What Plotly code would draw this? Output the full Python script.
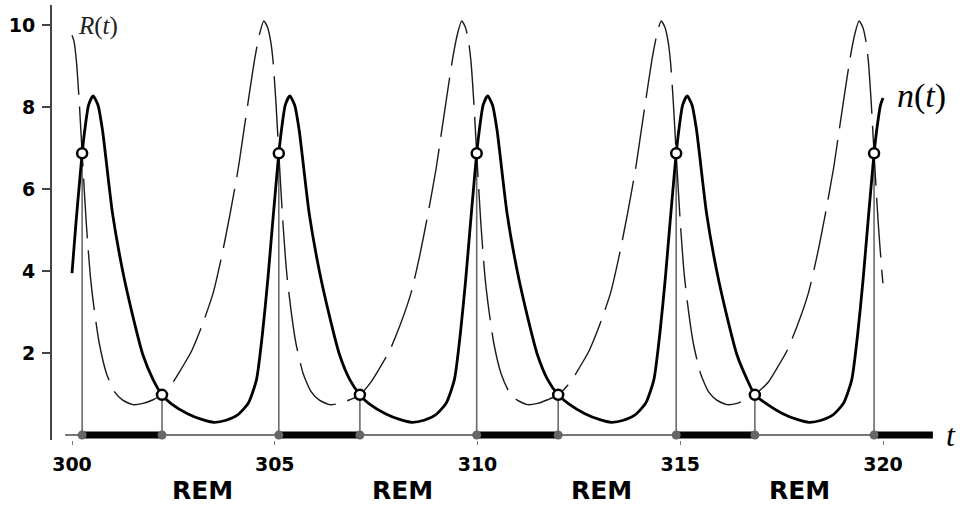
import plotly.graph_objects as go

# ---- data ----
n_t = [300.00, 300.10, 300.18, 300.25, 300.33, 300.41, 300.52, 300.64, 300.75, 301.00, 301.25, 301.50, 301.75, 302.00, 302.22,
       302.45, 302.85, 303.20, 303.50, 303.80, 304.10, 304.35, 304.55, 304.70, 304.83, 304.95, 305.03, 305.10,
       305.18, 305.26, 305.37, 305.49, 305.60, 305.85, 306.10, 306.35, 306.60, 306.85, 307.10,
       307.33, 307.73, 308.08, 308.38, 308.68, 308.98, 309.23, 309.43, 309.58, 309.71, 309.83, 309.91, 309.98,
       310.06, 310.14, 310.25, 310.37, 310.48, 310.73, 310.98, 311.23, 311.48, 311.73, 311.99,
       312.25, 312.65, 313.00, 313.30, 313.60, 313.90, 314.15, 314.35, 314.50, 314.63, 314.75, 314.83, 314.90,
       314.98, 315.06, 315.17, 315.29, 315.40, 315.65, 315.90, 316.15, 316.40, 316.65, 316.84,
       317.13, 317.53, 317.88, 318.18, 318.48, 318.78, 319.03, 319.23, 319.38, 319.51, 319.63, 319.71, 319.78,
       319.86, 319.94, 320.00]
n_vals = [3.95, 5.2, 6.1, 6.87, 7.55, 8.05, 8.27, 8.05, 7.45, 5.4, 4.0, 2.9, 1.95, 1.35, 0.98,
          0.76, 0.52, 0.38, 0.31, 0.36, 0.50, 0.78, 1.35, 2.5, 3.8, 5.2, 6.1, 6.87,
          7.55, 8.05, 8.27, 8.05, 7.45, 5.4, 4.0, 2.9, 1.95, 1.35, 0.98,
          0.76, 0.52, 0.38, 0.31, 0.36, 0.50, 0.78, 1.35, 2.5, 3.8, 5.2, 6.1, 6.87,
          7.55, 8.05, 8.27, 8.05, 7.45, 5.4, 4.0, 2.9, 1.95, 1.35, 0.98,
          0.76, 0.52, 0.38, 0.31, 0.36, 0.50, 0.78, 1.35, 2.5, 3.8, 5.2, 6.1, 6.87,
          7.55, 8.05, 8.27, 8.05, 7.45, 5.4, 4.0, 2.9, 1.95, 1.35, 0.98,
          0.76, 0.52, 0.38, 0.31, 0.36, 0.50, 0.78, 1.35, 2.5, 3.8, 5.2, 6.1, 6.87,
          7.55, 8.05, 8.22]

R_t = [300.00, 300.05, 300.11, 300.18, 300.25, 300.35, 300.45, 300.55, 300.67, 300.85, 301.05, 301.25, 301.50, 301.75, 302.00, 302.22,
       302.50, 302.70, 302.95, 303.20, 303.48, 303.70, 303.90, 304.10, 304.22, 304.37, 304.51, 304.63, 304.73, 304.82, 304.90, 304.96, 305.03, 305.10,
       305.20, 305.30, 305.40, 305.52, 305.70, 305.90, 306.10, 306.35, 306.60, 306.85, 307.10,
       307.38, 307.58, 307.83, 308.08, 308.36, 308.58, 308.78, 308.98, 309.10, 309.25, 309.39, 309.51, 309.61, 309.70, 309.78, 309.84, 309.91, 309.98,
       310.08, 310.18, 310.28, 310.40, 310.58, 310.78, 310.98, 311.23, 311.48, 311.73, 311.99,
       312.30, 312.50, 312.75, 313.00, 313.28, 313.50, 313.70, 313.90, 314.02, 314.17, 314.31, 314.43, 314.53, 314.62, 314.70, 314.76, 314.83, 314.90,
       315.00, 315.10, 315.20, 315.32, 315.50, 315.70, 315.90, 316.15, 316.40, 316.62, 316.84,
       317.18, 317.38, 317.63, 317.88, 318.16, 318.38, 318.58, 318.78, 318.90, 319.05, 319.19, 319.31, 319.41, 319.50, 319.58, 319.64, 319.71, 319.78,
       319.88, 319.98, 320.00]
R_vals = [9.75, 9.6, 9.1, 8.1, 6.87, 5.2, 3.9, 3.05, 2.25, 1.5, 1.05, 0.85, 0.74, 0.77, 0.86, 0.98,
          1.3, 1.62, 2.05, 2.65, 3.46, 4.4, 5.4, 6.5, 7.3, 8.3, 9.2, 9.8, 10.1, 9.95, 9.6, 9.1, 8.1, 6.87,
          5.2, 3.9, 3.05, 2.25, 1.5, 1.05, 0.85, 0.74, 0.77, 0.86, 0.98,
          1.3, 1.62, 2.05, 2.65, 3.46, 4.4, 5.4, 6.5, 7.3, 8.3, 9.2, 9.8, 10.1, 9.95, 9.6, 9.1, 8.1, 6.87,
          5.2, 3.9, 3.05, 2.25, 1.5, 1.05, 0.85, 0.74, 0.77, 0.86, 0.98,
          1.3, 1.62, 2.05, 2.65, 3.46, 4.4, 5.4, 6.5, 7.3, 8.3, 9.2, 9.8, 10.1, 9.95, 9.6, 9.1, 8.1, 6.87,
          5.2, 3.9, 3.05, 2.25, 1.5, 1.05, 0.85, 0.74, 0.77, 0.86, 0.98,
          1.3, 1.62, 2.05, 2.65, 3.46, 4.4, 5.4, 6.5, 7.3, 8.3, 9.2, 9.8, 10.1, 9.95, 9.6, 9.1, 8.1, 6.87,
          5.2, 3.9, 3.7]

high_t = [300.25, 305.10, 309.98, 314.90, 319.78]   # n = R on the way up
high_val = 6.87
low_t = [302.22, 307.10, 311.99, 316.84]            # n = R on the way down
low_val = 0.98
axis_start, axis_end = 299.83, 321.23
rem_t = [303.23, 308.14, 313.05, 317.93]
x_ticks = [300, 305, 310, 315, 320]
y_ticks = [2, 4, 6, 8, 10]

fig = go.Figure()

# time axis line
fig.add_trace(go.Scatter(x=[axis_start, axis_end], y=[0, 0], mode="lines",
                         line=dict(color="#777777", width=2), hoverinfo="skip"))
# REM bars (from up-crossing to down-crossing, plus last open interval)
bx, by = [], []
for a, b in zip(high_t, low_t + [axis_end]):
    bx += [a, b, None]
    by += [0, 0, None]
fig.add_trace(go.Scatter(x=bx, y=by, mode="lines", line=dict(color="black", width=7), hoverinfo="skip"))
# vertical drop lines
vx, vy = [], []
for a in high_t:
    vx += [a, a, None]; vy += [0, high_val, None]
for a in low_t:
    vx += [a, a, None]; vy += [0, low_val, None]
fig.add_trace(go.Scatter(x=vx, y=vy, mode="lines", line=dict(color="#6a6a6a", width=1.6), hoverinfo="skip"))

# R(t) dashed
fig.add_trace(go.Scatter(x=R_t, y=R_vals, mode="lines", line_shape="spline",
                         line=dict(color="#1a1a1a", width=1.4, dash="60px,12px", smoothing=0.6), hoverinfo="skip"))
# n(t) solid
fig.add_trace(go.Scatter(x=n_t, y=n_vals, mode="lines", line_shape="spline",
                         line=dict(color="black", width=2.8, smoothing=0.6), hoverinfo="skip"))

# grey dots on axis
fig.add_trace(go.Scatter(x=high_t + low_t, y=[0] * (len(high_t) + len(low_t)), mode="markers",
                         marker=dict(color="#666666", size=9, line=dict(width=0)), hoverinfo="skip"))
# crossing circles
fig.add_trace(go.Scatter(x=high_t + low_t, y=[high_val] * len(high_t) + [low_val] * len(low_t), mode="markers",
                         marker=dict(color="white", size=10, line=dict(color="black", width=2.5)), hoverinfo="skip"))

ann = []
for x in rem_t:
    ann.append(dict(x=x, xref="x", y=-0.1172, yref="paper", yanchor="middle", text="REM", showarrow=False,
                    font=dict(family="DejaVu Sans", size=25, color="black", weight="bold")))
ann.append(dict(x=300.64, y=9.98, text="<i>R</i>(<i>t</i>)", showarrow=False,
                font=dict(family="Liberation Serif", size=25, color="#222222")))
ann.append(dict(x=320.94, y=8.27, text="<i>n</i>(<i>t</i>)", showarrow=False,
                font=dict(family="Liberation Serif", size=34, color="black")))
ann.append(dict(x=321.68, y=0.0, text="<i>t</i>", showarrow=False,
                font=dict(family="Liberation Serif", size=32, color="black")))

fig.update_layout(
    width=960, height=506,
    margin=dict(l=52, r=0, t=5, b=66),
    paper_bgcolor="white", plot_bgcolor="white",
    showlegend=False,
    annotations=ann,
    xaxis=dict(range=[299.5068, 321.899], showgrid=False, zeroline=False, showline=False,
               tickvals=x_ticks, ticktext=[str(v) for v in x_ticks],
               ticks="outside", ticklen=4, tickcolor="#777777", tickwidth=1,
               ticklabelstandoff=3,
               tickfont=dict(family="DejaVu Sans", size=19, color="black", weight="bold")),
    yaxis=dict(range=[-0.1220, 10.4878], showgrid=False, zeroline=False, showline=True,
               linecolor="#444444", linewidth=2,
               tickvals=y_ticks, ticktext=[str(v) for v in y_ticks],
               ticks="outside", ticklen=8, tickcolor="#444444", tickwidth=1.5,
               ticklabelstandoff=3,
               tickfont=dict(family="DejaVu Sans", size=19, color="black", weight="bold")),
)

fig.write_html("out.html")
